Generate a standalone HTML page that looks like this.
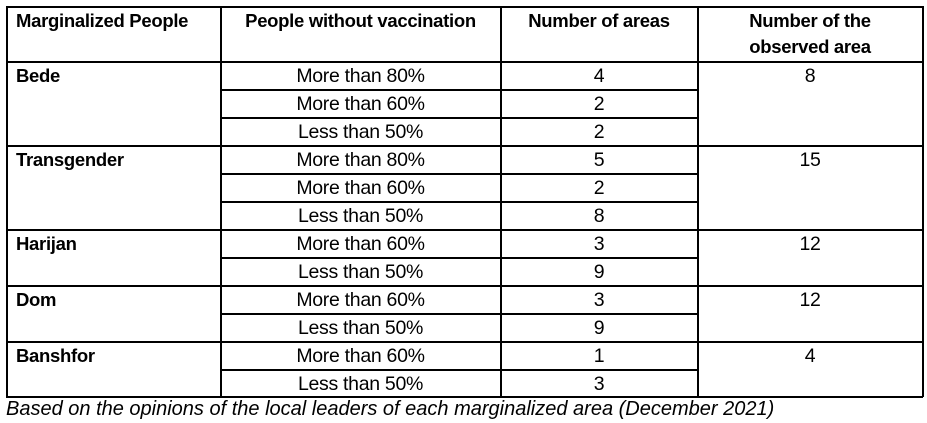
<!DOCTYPE html>
<html><head><style>
body{margin:0;width:927px;height:423px;background:#fff;position:relative;font-family:"Liberation Sans",sans-serif;color:#000;overflow:hidden}
.h,.v{position:absolute;background:#000}
.h{height:1.5px}.v{width:1.5px}
.t{position:absolute;font-size:19.5px;line-height:24px;white-space:nowrap;letter-spacing:-0.3px}
.b{font-weight:bold;font-size:18.5px}
.c{text-align:center}
</style></head><body>
<div class="h" style="left:6px;top:6px;width:917px"></div>
<div class="h" style="left:6px;top:61px;width:917px"></div>
<div class="h" style="left:6px;top:145px;width:917px"></div>
<div class="h" style="left:6px;top:229px;width:917px"></div>
<div class="h" style="left:6px;top:285px;width:917px"></div>
<div class="h" style="left:6px;top:341px;width:917px"></div>
<div class="h" style="left:6px;top:396px;width:917px"></div>
<div class="h" style="left:220px;top:89px;width:478px"></div>
<div class="h" style="left:220px;top:117px;width:478px"></div>
<div class="h" style="left:220px;top:173px;width:478px"></div>
<div class="h" style="left:220px;top:201px;width:478px"></div>
<div class="h" style="left:220px;top:257px;width:478px"></div>
<div class="h" style="left:220px;top:313px;width:478px"></div>
<div class="h" style="left:220px;top:369px;width:478px"></div>
<div class="v" style="left:6px;top:6px;height:391px"></div>
<div class="v" style="left:220px;top:6px;height:391px"></div>
<div class="v" style="left:500px;top:6px;height:391px"></div>
<div class="v" style="left:697px;top:6px;height:391px"></div>
<div class="v" style="left:922px;top:6px;height:391px"></div>
<div class="t b" style="left:16px;top:9px">Marginalized People</div>
<div class="t b c" style="left:221px;width:279px;top:9px">People without vaccination</div>
<div class="t b c" style="left:501px;width:196px;top:9px">Number of areas</div>
<div class="t b c" style="left:698px;width:224px;top:8px;line-height:26px">Number of the<br>observed area</div>
<div class="t b" style="left:16px;top:64px">Bede</div>
<div class="t b" style="left:16px;top:148px">Transgender</div>
<div class="t b" style="left:16px;top:232px">Harijan</div>
<div class="t b" style="left:16px;top:288px">Dom</div>
<div class="t b" style="left:16px;top:344px">Banshfor</div>
<div class="t c" style="left:698px;width:224px;top:64px">8</div>
<div class="t c" style="left:698px;width:224px;top:148px">15</div>
<div class="t c" style="left:698px;width:224px;top:232px">12</div>
<div class="t c" style="left:698px;width:224px;top:288px">12</div>
<div class="t c" style="left:698px;width:224px;top:344px">4</div>
<div class="t c" style="left:221px;width:279px;top:64px">More than 80%</div><div class="t c" style="left:501px;width:196px;top:64px">4</div>
<div class="t c" style="left:221px;width:279px;top:92px">More than 60%</div><div class="t c" style="left:501px;width:196px;top:92px">2</div>
<div class="t c" style="left:221px;width:279px;top:120px">Less than 50%</div><div class="t c" style="left:501px;width:196px;top:120px">2</div>
<div class="t c" style="left:221px;width:279px;top:148px">More than 80%</div><div class="t c" style="left:501px;width:196px;top:148px">5</div>
<div class="t c" style="left:221px;width:279px;top:176px">More than 60%</div><div class="t c" style="left:501px;width:196px;top:176px">2</div>
<div class="t c" style="left:221px;width:279px;top:204px">Less than 50%</div><div class="t c" style="left:501px;width:196px;top:204px">8</div>
<div class="t c" style="left:221px;width:279px;top:232px">More than 60%</div><div class="t c" style="left:501px;width:196px;top:232px">3</div>
<div class="t c" style="left:221px;width:279px;top:260px">Less than 50%</div><div class="t c" style="left:501px;width:196px;top:260px">9</div>
<div class="t c" style="left:221px;width:279px;top:288px">More than 60%</div><div class="t c" style="left:501px;width:196px;top:288px">3</div>
<div class="t c" style="left:221px;width:279px;top:316px">Less than 50%</div><div class="t c" style="left:501px;width:196px;top:316px">9</div>
<div class="t c" style="left:221px;width:279px;top:344px">More than 60%</div><div class="t c" style="left:501px;width:196px;top:344px">1</div>
<div class="t c" style="left:221px;width:279px;top:372px">Less than 50%</div><div class="t c" style="left:501px;width:196px;top:372px">3</div>
<div class="t" style="left:6px;top:397px;font-style:italic;font-size:20px;letter-spacing:0">Based on the opinions of the local leaders of each marginalized area (December 2021)</div>
</body></html>
